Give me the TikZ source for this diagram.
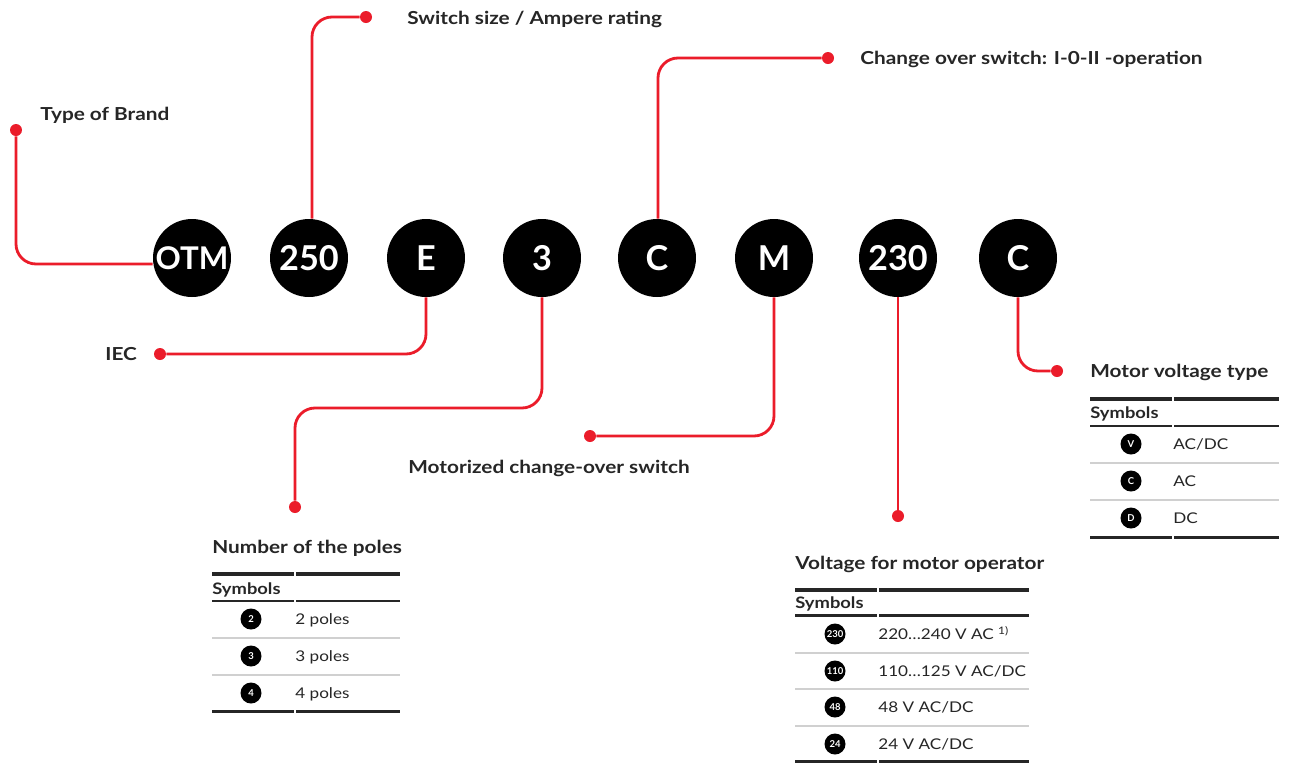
\documentclass[tikz,border=0pt]{standalone}
\usepackage{fontspec}
\setmainfont{Lato}[FakeStretch=1.16]
\newfontfamily\circfont{Lato}
\usetikzlibrary{positioning, calc}
\definecolor{abbred}{RGB}{235,28,42}
\definecolor{txtgray}{RGB}{38,38,38}
\definecolor{rulegray}{RGB}{208,208,208}

\begin{document}
\begin{tikzpicture}[
    x=0.02cm, y=-0.02cm,
    bigtxt/.style={text=white, inner sep=0, font=\circfont\fontsize{19.5}{20}\selectfont\bfseries},
    bigc/.style={circle, fill=black, minimum size=1.56cm, inner sep=0,
                 label={[bigtxt]center:#1}},
    smalltxt/.style={text=white, inner sep=0, font=\circfont\fontsize{5.4}{5}\selectfont\bfseries},
    smallc/.style={circle, fill=black, minimum size=0.42cm, inner sep=0,
                   label={[smalltxt]center:#1}},
    lbl/.style={anchor=base west, inner sep=0, text=txtgray,
                font=\fontsize{10.2}{12}\selectfont\bfseries},
    hdr/.style={anchor=base west, inner sep=0, text=txtgray,
                font=\fontsize{9}{10}\selectfont\bfseries},
    cell/.style={anchor=base west, inner sep=0, text=txtgray,
                 font=\fontsize{8.4}{10}\selectfont},
    lead/.style={abbred, line width=1.6pt, rounded corners=0.4cm},
    dot/.style={circle, fill=abbred, minimum size=0.24cm, inner sep=0},
    toprule/.style={txtgray, line width=2.8pt},
    midrule/.style={txtgray, line width=1.4pt},
    botrule/.style={txtgray, line width=1.7pt},
    rowrule/.style={rulegray, line width=0.8pt}
]

\fill[white] (0,0) rectangle (1289,762);
\useasboundingbox (0,0) rectangle (1289,762);

% code circles
\node[bigc={\fontsize{17.8}{18}\selectfont OTM}] (notm) at (192,258) {};
\node[bigc=250] (n250) at (309,258) {};
\node[bigc=E]   (ne)   at (426,258) {};
\node[bigc=3]   (n3)   at (542,258) {};
\node[bigc=C]   (nc)   at (657,258) {};
\node[bigc=M]   (nm)   at (774,258) {};
\node[bigc=230] (n230) at (898,258) {};
\node[bigc=C]   (nct)  at (1018,258) {};

% end dots
\node[dot] (dbrand)  at (16,130) {};
\node[dot] (dsize)   at (366,17) {};
\node[dot] (dchange) at (828,58) {};
\node[dot] (diec)    at (160,354) {};
\node[dot] (dpoles)  at (295,507) {};
\node[dot] (dmotor)  at (590,436) {};
\node[dot] (dvolt)   at (898,516) {};
\node[dot] (dtype)   at (1057,371) {};

% labels
\node[lbl] (lbrand)  at (40,120)   {Type of Brand};
\node[lbl] (lsize)   at (407,24)   {Switch size / Ampere rating};
\node[lbl] (lchange) at (860,64)   {Change over switch: I-0-II -operation};
\node[lbl] (liec)    at (105,360)  {IEC};
\node[lbl] (lmotor)  at (408,473)  {Motorized change-over switch};
\node[lbl] (lpoles)  at (212,553)  {Number of the poles};
\node[lbl] (lvolt)   at (795,569)  {Voltage for motor operator};
\node[lbl] (ltype)   at (1090,377) {Motor voltage type};

% leads
\coordinate (abrand) at ($(notm.west)+(0,6)$);
\coordinate (kpoles) at (295,408);
\draw[lead] (dbrand) |- (abrand);
\draw[lead] ($(n250.north)+(3,0)$) |- (dsize);
\draw[lead] ($(nc.north)+(1,0)$) |- (dchange);
\draw[lead] (ne.south) |- (diec);
\draw[lead] (n3.south) |- (kpoles) -- (dpoles);
\draw[lead] (nm.south) |- (dmotor);
\draw[lead] (n230.south) -- (dvolt);
\draw[lead] (nct.south) |- (dtype);

% table: poles
\draw[toprule] (212,574) -- (294,574) (296,574) -- (400,574);
\node[hdr] (spoles) at (212,594) {Symbols};
\draw[midrule] (212,601) -- (294,601) (296,601) -- (400,601);
\draw[rowrule] (212,638) -- (400,638);
\draw[rowrule] (212,675) -- (400,675);
\draw[botrule] (212,711) -- (294,711) (296,711) -- (400,711);
\node[smallc=2] (p2) at (251,619) {};
\node[smallc=3] (p3) at (251,656) {};
\node[smallc=4] (p4) at (251,693) {};
\node[cell] (tp2) at (295,624) {2 poles};
\node[cell] (tp3) at (295,661) {3 poles};
\node[cell] (tp4) at (295,698) {4 poles};

% table: motor operator voltage
\draw[toprule] (795,590) -- (877,590) (879,590) -- (1029,590);
\node[hdr] (svolt) at (795,608) {Symbols};
\draw[midrule] (795,615.5) -- (877,615.5) (879,615.5) -- (1029,615.5);
\draw[rowrule] (795,653) -- (1029,653);
\draw[rowrule] (795,689) -- (1029,689);
\draw[rowrule] (795,726) -- (1029,726);
\draw[botrule] (795,761) -- (877,761) (879,761) -- (1029,761);
\node[smallc=230] (v230) at (835,634) {};
\node[smallc=110] (v110) at (835,671) {};
\node[smallc=48]  (v48)  at (835,707) {};
\node[smallc=24]  (v24)  at (835,744) {};
\node[cell] (tv230) at (878,639) {220…240 V AC \textsuperscript{1)}};
\node[cell] (tv110) at (878,676) {110…125 V AC/DC};
\node[cell] (tv48)  at (878,712) {48 V AC/DC};
\node[cell] (tv24)  at (878,749) {24 V AC/DC};

% table: motor voltage type
\draw[toprule] (1090,399) -- (1172,399) (1174,399) -- (1279,399);
\node[hdr] (stype) at (1090,418) {Symbols};
\draw[midrule] (1090,426) -- (1172,426) (1174,426) -- (1279,426);
\draw[rowrule] (1090,463) -- (1279,463);
\draw[rowrule] (1090,500) -- (1279,500);
\draw[botrule] (1090,537) -- (1172,537) (1174,537) -- (1279,537);
\node[smallc=V] (yv) at (1131,444) {};
\node[smallc=C] (yc) at (1131,481) {};
\node[smallc=D] (yd) at (1131,518) {};
\node[cell] (tyv) at (1173,449) {AC/DC};
\node[cell] (tyc) at (1173,486) {AC};
\node[cell] (tyd) at (1173,523) {DC};

\end{tikzpicture}
\end{document}
